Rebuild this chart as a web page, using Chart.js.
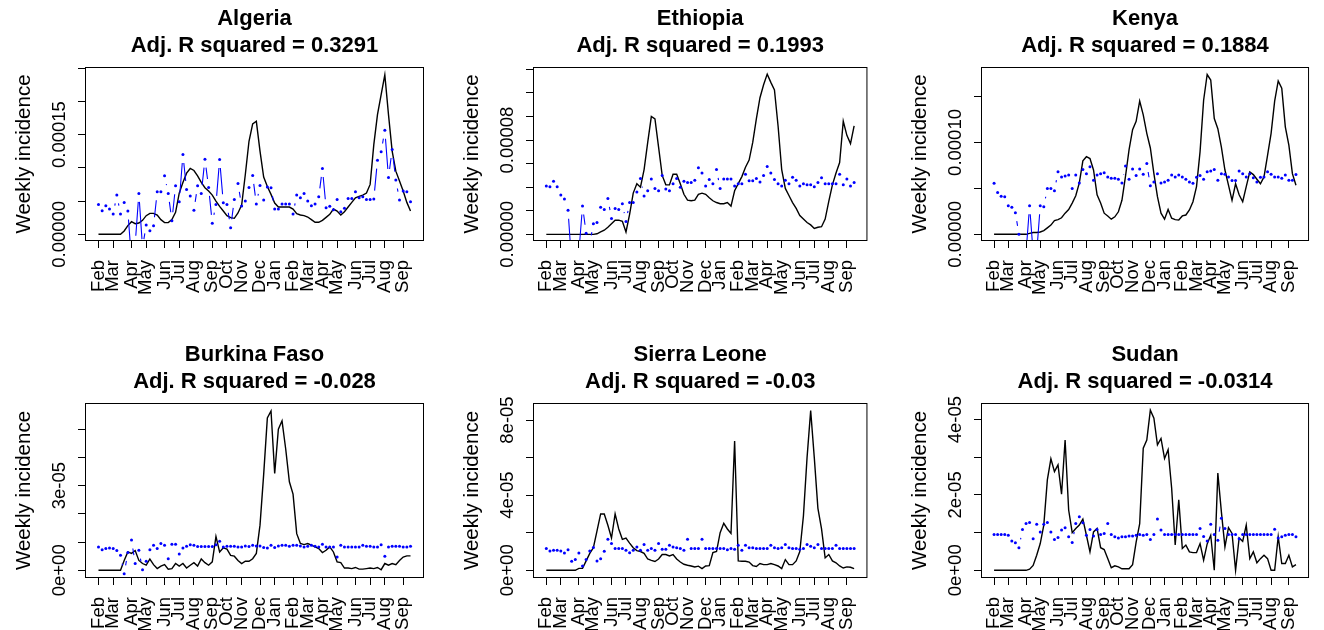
<!DOCTYPE html>
<html>
<head>
<meta charset="utf-8">
<script src="https://cdn.jsdelivr.net/npm/chart.js@4.4.1/dist/chart.umd.min.js"></script>
<style>
  html, body { margin: 0; padding: 0; background: #fff; overflow: hidden; }
  #wrap { position: relative; width: 1324px; height: 630px; }
  canvas { position: absolute; }
</style>
</head>
<body>
<div id="wrap"></div>
<script>
// x axis: weekly index, ticks on the first week of each month
const monthTicks = [0, 4, 9, 13, 18, 22, 26, 31, 35, 39, 44, 48, 53, 57, 61, 65, 70, 74, 78, 83];
const monthLabels = ["Feb", "Mar", "Apr", "May", "Jun", "Jul", "Aug", "Sep", "Oct", "Nov", "Dec", "Jan",
  "Feb", "Mar", "Apr", "May", "Jun", "Jul", "Aug", "Sep"];

const countries = ["Algeria", "Ethiopia", "Kenya", "Burkina Faso", "Sierra Leone", "Sudan"];
const adjR2 = ["0.3291", "0.1993", "0.1884", "-0.028", "-0.03", "-0.0314"];

// weekly incidence, units of 1e-5 (observed = black line, fitted = blue)
const algeriaObs = [0, 0, 0, 0, 0, 0, 0, 0.5, 1.3, 1.9, 1.6, 1.7,
  2.1, 2.8, 3.15, 3.15, 2.9, 2.2, 1.75, 1.75, 2.2, 3.3, 6.2, 7.8,
  9.2, 9.9, 9.6, 8.8, 7.8, 7.0, 6.5, 5.9, 5.0, 4.2, 3.5, 2.8,
  2.5, 2.4, 3.2, 4.4, 9.0, 14.0, 16.6, 17.0, 12.5, 8.6, 7.2, 6.0,
  4.7, 4.1, 4.1, 4.1, 4.1, 3.8, 3.1, 2.9, 2.8, 2.6, 2.2, 1.8,
  1.8, 2.1, 2.55, 3.0, 3.8, 3.5, 2.9, 3.4, 4.1, 4.8, 5.5, 5.7,
  5.9, 6.2, 7.5, 13.5, 18.0, 21.0, 24.0, 18.0, 12.5, 9.5, 8.0, 6.5,
  4.8, 3.5];
const algeriaFit = [4.5, 3.55, 4.3, 3.8, 3.05, 5.9, 3.05, 4.8, 3.5, -4, -1.5, 6.15,
  -2, 1.4, 0.55, 1.3, 6.4, 6.4, 8.8, 6.15, 2.05, 7.3, 4.9, 12.0,
  6.75, 5.75, 3.6, 7.3, 6.15, 11.3, 7.05, 1.65, 4.5, 11.25, 4.75, 4.5,
  1.0, 5.25, 7.65, 4.25, 5.0, 7.05, 8.85, 4.55, 7.35, 5.15, 7.1, 7.0,
  3.8, 3.8, 4.55, 4.55, 4.55, 3.05, 5.9, 5.5, 6.15, 5.0, 4.3, 4.55,
  5.65, 9.9, 4.0, 4.2, 3.7, 5.25, 3.4, 3.9, 5.4, 5.4, 6.4, 5.5,
  5.65, 5.25, 5.25, 5.3, 11.15, 12.4, 15.65, 8.55, 12.75, 8.15, 5.15, 6.5,
  6.4, 4.9];

const ethiopiaObs = [0, 0, 0, 0, 0, 0, 0, 0, 0, 0, 0, 0,
  0, 0, 0.05, 0.2, 0.35, 0.6, 0.9, 1.2, 1.2, 1.1, 0.2, 1.7,
  3.5, 4.3, 4.0, 5.5, 7.8, 10.0, 9.8, 7.4, 5.0, 4.2, 4.2, 5.1,
  5.1, 4.3, 3.4, 2.9, 2.85, 2.9, 3.4, 3.5, 3.4, 3.1, 2.85, 2.7,
  2.6, 2.6, 2.7, 2.4, 3.7, 4.3, 4.9, 5.7, 6.3, 7.8, 9.8, 11.6,
  12.7, 13.6, 12.9, 12.25, 9.2, 5.5, 3.9, 3.3, 2.7, 2.2, 1.6, 1.3,
  1.0, 0.8, 0.5, 0.6, 0.65, 1.3, 2.8, 4.2, 5.2, 6.1, 9.6, 8.4,
  7.7, 9.2];
const ethiopiaFit = [4.1, 4.05, 4.5, 4.05, 3.35, 3.0, 2.05, -2.5, -3, -1.5, 2.4, 0.1,
  -0.8, 0.9, 1.0, 2.3, 2.1, 3.05, 1.35, 2.2, 2.1, 2.6, 1.1, 2.7,
  2.7, 3.6, 4.75, 3.25, 3.7, 4.7, 3.9, 3.7, 5.0, 3.85, 3.7, 4.3,
  4.75, 4.0, 4.5, 4.4, 4.4, 4.6, 5.65, 5.2, 4.1, 4.65, 4.3, 5.5,
  3.9, 4.7, 4.7, 4.7, 4.1, 4.3, 4.3, 5.1, 4.55, 4.55, 4.75, 4.45,
  5.0, 5.75, 5.2, 4.65, 4.3, 4.1, 4.6, 4.3, 4.85, 4.6, 4.1, 4.3,
  4.2, 4.2, 4.05, 4.4, 4.8, 4.3, 4.3, 4.3, 4.3, 5.1, 4.2, 4.7,
  4.1, 4.4];

const kenyaObs = [0, 0, 0, 0, 0, 0, 0, 0, 0, 0, 0.1, 0.2,
  0.2, 0.25, 0.4, 0.7, 1.0, 1.5, 1.6, 1.8, 2.3, 2.7, 3.4, 4.2,
  5.6, 8.0, 8.45, 8.25, 7.0, 4.3, 3.4, 2.3, 2.0, 1.65, 1.9, 2.45,
  3.7, 6.3, 9.2, 11.4, 12.3, 14.5, 13.0, 11.0, 9.4, 6.6, 4.1, 2.3,
  1.65, 2.7, 1.75, 1.6, 1.55, 2.0, 2.1, 2.65, 3.55, 5.2, 9.0, 14.6,
  17.4, 16.8, 12.6, 11.5, 9.5, 7.0, 5.35, 3.7, 5.5, 4.3, 3.55, 5.2,
  6.8, 6.5, 6.0, 5.5, 6.25, 8.6, 11.0, 14.5, 16.7, 15.9, 11.7, 9.7,
  6.6, 5.35];
const kenyaFit = [5.55, 4.55, 4.15, 4.1, 3.1, 2.95, 2.35, 0, -1, -2, 3.1, -2,
  -2, 3.1, 3.0, 5.0, 5.0, 4.75, 6.8, 6.25, 6.35, 6.45, 5.0, 6.45,
  5.6, 7.05, 6.6, 7.35, 5.9, 6.45, 6.6, 6.7, 6.25, 6.1, 6.1, 6.0,
  5.6, 7.45, 6.0, 7.1, 6.4, 7.1, 6.55, 7.7, 5.3, 5.7, 6.6, 5.6,
  5.7, 5.9, 6.45, 6.25, 6.45, 6.25, 6.0, 5.7, 5.55, 6.2, 6.4, 6.0,
  6.8, 6.9, 7.05, 5.9, 6.6, 6.55, 6.25, 5.85, 5.85, 6.9, 6.6, 6.25,
  6.6, 6.15, 5.7, 6.2, 6.25, 6.8, 6.55, 6.25, 6.25, 6.1, 6.45, 5.9,
  5.9, 6.5];

const burkinaObs = [0, 0, 0, 0, 0, 0, 0, 0.35, 0.65, 0.6, 0.7, 0.35,
  0.24, 0.18, 0.4, 0.2, 0.06, 0.15, 0.2, 0.04, 0.06, 0.24, 0.15, 0.24,
  0.08, 0.18, 0.27, 0.15, 0.4, 0.27, 0.18, 0.3, 1.2, 0.65, 0.8, 0.75,
  0.53, 0.5, 0.35, 0.24, 0.32, 0.32, 0.41, 0.6, 1.6, 3.4, 5.4, 5.65,
  3.43, 5.0, 5.3, 4.3, 3.14, 2.7, 1.3, 0.95, 0.91, 0.95, 0.89, 0.83,
  0.77, 0.63, 0.71, 0.83, 0.65, 0.3, 0.27, 0.08, 0.08, 0.06, 0.1, 0.04,
  0.04, 0.06, 0.08, 0.06, 0.1, 0.02, 0.24, 0.18, 0.24, 0.2, 0.35, 0.47,
  0.51, 0.51];
const burkinaFit = [0.83, 0.73, 0.77, 0.79, 0.77, 0.7, 0.53, -0.12, 0.63, 1.07, 0.24, 0.71,
  0.02, 0.32, 0.73, 0.89, 0.77, 0.95, 0.89, 0.41, 0.92, 0.92, 0.58, 0.79,
  0.85, 0.91, 0.89, 0.84, 0.84, 0.84, 0.84, 0.84, 0.91, 1.03, 0.83, 0.85,
  0.85, 0.85, 0.83, 0.83, 0.86, 0.84, 0.89, 0.86, 0.86, 0.81, 0.79, 0.89,
  0.81, 0.86, 0.89, 0.89, 0.85, 0.89, 0.89, 0.86, 0.83, 0.85, 0.89, 0.85,
  0.83, 0.92, 0.83, 0.83, 0.83, 0.47, 0.89, 0.83, 0.83, 0.83, 0.83, 0.83,
  0.89, 0.85, 0.85, 0.83, 0.83, 0.91, 0.5, 0.83, 0.85, 0.85, 0.85, 0.83,
  0.83, 0.85];

const sierraObs = [0, 0, 0, 0, 0, 0, 0, 0, 0, 0.1, 0.1, 0.5,
  0.9, 1.2, 2.1, 3.0, 3.0, 2.4, 1.72, 3.0, 2.2, 1.65, 1.72, 1.45,
  1.2, 1.05, 1.0, 0.9, 0.6, 0.53, 0.47, 0.6, 0.84, 0.84, 0.76, 0.84,
  0.6, 0.44, 0.32, 0.27, 0.23, 0.18, 0.22, 0.09, 0.23, 0.25, 0.94, 1.0,
  2.0, 2.5, 2.2, 1.96, 6.88, 0.5, 0.48, 0.48, 0.44, 0.25, 0.2, 0.36,
  0.3, 0.3, 0.36, 0.3, 0.23, 0.09, 0.57, 0.3, 0.3, 0.5, 1.0, 2.9,
  6.0, 8.5, 6.0, 3.3, 2.2, 0.66, 0.84, 0.5, 0.4, 0.23, 0.12, 0.18,
  0.16, 0.09];
const sierraFit = [1.16, 1.03, 1.07, 1.07, 1.03, 0.92, 1.1, 0.48, 0.57, 0.92, 0.23, 0.57,
  1.03, 1.21, 0.5, 0.62, 1.01, 1.65, 1.42, 1.16, 1.16, 1.16, 1.07, 0.94,
  1.07, 1.24, 1.07, 1.37, 1.07, 1.16, 1.07, 1.42, 1.12, 1.12, 1.33, 1.24,
  1.2, 1.16, 1.07, 1.65, 1.16, 1.16, 1.16, 1.65, 1.16, 1.16, 1.16, 1.16,
  1.16, 1.16, 1.1, 1.16, 1.12, 1.33, 1.07, 1.33, 1.2, 1.2, 1.16, 1.16,
  1.16, 1.16, 1.33, 1.2, 1.16, 1.2, 1.37, 1.2, 1.16, 1.16, 1.12, 1.16,
  1.37, 1.28, 1.2, 1.37, 1.16, 1.16, 1.16, 1.16, 1.33, 1.16, 1.16, 1.16,
  1.16, 1.16];

const sudanObs = [0, 0, 0, 0, 0, 0, 0, 0, 0, 0, 0.03, 0.13,
  0.4, 0.71, 1.2, 2.4, 2.96, 2.62, 2.8, 2.02, 3.46, 1.6, 1.0, 1.11,
  1.2, 1.36, 0.93, 0.49, 1.02, 1.11, 0.6, 0.55, 0.31, 0.07, 0.12, 0.09,
  0.04, 0.04, 0.04, 0.15, 0.75, 1.24, 3.24, 3.46, 4.25, 4.04, 3.33, 3.5,
  2.97, 3.2, 2.18, 0.67, 1.87, 0.58, 0.67, 0.49, 0.47, 0.47, 0.71, 0.27,
  0.7, 0.93, 0, 2.58, 1.55, 0.62, 1.13, 0.98, 0, 0.86, 0.77, 1.2,
  0.31, 0.49, 0.2, 0.31, 0.4, 0.31, 0, 0, 0.89, 0.18, 0.18, 0.4,
  0.09, 0.15];
const sudanFit = [0.95, 0.95, 0.95, 0.95, 0.93, 0.78, 0.73, 0.6, 1.08, 1.24, 1.27, 0.84,
  1.22, 1.02, 1.22, 1.27, 1.02, 0.82, 0.87, 1.07, 1.13, 0.89, 0.74, 1.24,
  1.42, 1.26, 0.93, 1.08, 0.91, 1.08, 0.95, 0.98, 1.24, 0.95, 0.89, 0.86,
  0.89, 0.89, 0.91, 0.91, 0.93, 0.95, 0.93, 0.95, 0.82, 0.95, 1.36, 1.07,
  0.95, 0.95, 0.95, 0.95, 0.95, 0.95, 0.95, 0.95, 0.95, 0.95, 1.11, 0.9,
  0.78, 1.22, 0.95, 0.8, 1.38, 1.11, 0.95, 0.95, 0.95, 0.84, 0.95, 0.95,
  0.95, 0.95, 0.95, 0.95, 0.95, 0.95, 0.95, 1.09, 0.86, 0.89, 0.93, 0.95,
  0.95, 0.89];

// y ticks (1e-5 units) and printed labels, "" = tick mark only
const algeriaTicks = [0, 5, 10, 15, 20, 25];
const algeriaTickLabels = ["0.00000", "", "", "0.00015", "", ""];
const ethiopiaTicks = [0, 2, 4, 6, 8, 10, 12, 14];
const ethiopiaTickLabels = ["0.00000", "", "", "", "0.00008", "", "", ""];
const kenyaTicks = [0, 5, 10, 15];
const kenyaTickLabels = ["0.00000", "", "0.00010", ""];
const burkinaTicks = [0, 1, 2, 3, 4, 5];
const burkinaTickLabels = ["0e+00", "", "", "3e-05", "", ""];
const sierraTicks = [0, 2, 4, 6, 8];
const sierraTickLabels = ["0e+00", "", "4e-05", "", "8e-05"];
const sudanTicks = [0, 1, 2, 3, 4];
const sudanTickLabels = ["0e+00", "", "2e-05", "", "4e-05"];

const panels = [
  { obs: algeriaObs, fit: algeriaFit, ticks: algeriaTicks, labels: algeriaTickLabels, yMin: -0.86, yMax: 25.02 },
  { obs: ethiopiaObs, fit: ethiopiaFit, ticks: ethiopiaTicks, labels: ethiopiaTickLabels, yMin: -0.48, yMax: 14.12 },
  { obs: kenyaObs, fit: kenyaFit, ticks: kenyaTicks, labels: kenyaTickLabels, yMin: -0.62, yMax: 18.11 },
  { obs: burkinaObs, fit: burkinaFit, ticks: burkinaTicks, labels: burkinaTickLabels, yMin: -0.238, yMax: 5.897 },
  { obs: sierraObs, fit: sierraFit, ticks: sierraTicks, labels: sierraTickLabels, yMin: -0.357, yMax: 8.853 },
  { obs: sudanObs, fit: sudanFit, ticks: sudanTicks, labels: sudanTickLabels, yMin: -0.178, yMax: 4.415 },
];

// page layout of the 2x3 grid
const colGeom = [
  { left: 0, plotL: 86, padR: 18 },
  { left: 441, plotL: 93, padR: 10 },
  { left: 883, plotL: 99, padR: 6 },
];
const rowGeom = [
  { top: 0, titleTop: 6, xH: 75 },
  { top: 315, titleTop: 27, xH: 53 },
];
const W = 441, H = 315;
const BLUE = "#0000ff";
const GAP = 8.5; // type="b" style gap around each point
const FONT = '"Liberation Sans", Arial, Helvetica, sans-serif';

Chart.defaults.font.family = FONT;
Chart.defaults.color = "#000";

// blue segments between fitted points, cut short near each point
const bSegments = {
  id: "bSegments",
  afterDatasetsDraw(chart) {
    const pts = chart.getDatasetMeta(1).data;
    const { ctx, chartArea: a } = chart;
    ctx.save();
    ctx.beginPath();
    ctx.rect(a.left, a.top, a.right - a.left, a.bottom - a.top);
    ctx.clip();
    ctx.strokeStyle = BLUE;
    ctx.lineWidth = 1.1;
    ctx.beginPath();
    for (let i = 1; i < pts.length; i++) {
      const p = pts[i - 1], q = pts[i];
      const dx = q.x - p.x, dy = q.y - p.y;
      const d = Math.hypot(dx, dy);
      if (d <= 2 * GAP) continue;
      ctx.moveTo(p.x + dx / d * GAP, p.y + dy / d * GAP);
      ctx.lineTo(q.x - dx / d * GAP, q.y - dy / d * GAP);
    }
    ctx.stroke();
    ctx.restore();
  }
};

// box around plot region + vertical y tick labels and y title
const rFrame = {
  id: "rFrame",
  afterDraw(chart, args, opts) {
    const { ctx, chartArea: a } = chart;
    const ys = chart.scales.y;
    ctx.save();
    ctx.strokeStyle = "#000";
    ctx.lineWidth = 1;
    ctx.strokeRect(a.left - 0.5, a.top - 0.5, a.right - a.left + 1, a.bottom - a.top + 1);

    ctx.fillStyle = "#000";
    ctx.textAlign = "center";
    ctx.textBaseline = "alphabetic";
    ctx.font = "18.5px " + FONT;
    opts.ticks.forEach((v, i) => {
      if (!opts.labels[i]) return;
      ctx.save();
      ctx.translate(a.left - 21, ys.getPixelForValue(v));
      ctx.rotate(-Math.PI / 2);
      ctx.fillText(opts.labels[i], 0, 0);
      ctx.restore();
    });
    ctx.font = "20.5px " + FONT;
    ctx.translate(a.left - 56.5, (a.top + a.bottom) / 2);
    ctx.rotate(-Math.PI / 2);
    ctx.fillText("Weekly incidence", 0, 0);
    ctx.restore();
  }
};

const wrap = document.getElementById("wrap");

panels.forEach((p, n) => {
  const cg = colGeom[n % 3], rg = rowGeom[Math.floor(n / 3)];
  const canvas = document.createElement("canvas");
  canvas.width = W;
  canvas.height = H;
  canvas.style.left = cg.left + "px";
  canvas.style.top = rg.top + "px";
  wrap.appendChild(canvas);

  new Chart(canvas, {
    type: "line",
    data: {
      datasets: [
        {
          data: p.obs.map((v, i) => ({ x: i, y: v })),
          borderColor: "#000",
          borderWidth: 1.4,
          pointRadius: 0,
          tension: 0,
          order: 2,
        },
        {
          data: p.fit.map((v, i) => ({ x: i, y: v })),
          showLine: false,
          pointRadius: 1.5,
          pointBorderWidth: 0,
          pointBackgroundColor: BLUE,
          order: 1,
        },
      ],
    },
    options: {
      responsive: false,
      animation: false,
      devicePixelRatio: 1,
      layout: { autoPadding: false, padding: { left: 0, right: cg.padR, top: 0, bottom: 0 } },
      plugins: {
        legend: { display: false },
        tooltip: { enabled: false },
        title: {
          display: true,
          fullSize: false,
          text: [countries[n], "Adj. R squared = " + adjR2[n]],
          color: "#000",
          font: { size: 22, weight: "bold", lineHeight: 1.2 },
          padding: { top: rg.titleTop, bottom: 9.2 },
        },
        rFrame: { ticks: p.ticks, labels: p.labels },
      },
      scales: {
        x: {
          type: "linear",
          min: -3.4,
          max: 88.4,
          afterBuildTicks: (s) => { s.ticks = monthTicks.map((v) => ({ value: v })); },
          afterFit: (s) => { s.height = rg.xH; },
          border: { display: false },
          grid: { drawOnChartArea: false, drawTicks: true, tickLength: 8, color: "#000", lineWidth: 1 },
          ticks: {
            autoSkip: false,
            minRotation: 90,
            maxRotation: 90,
            padding: 12,
            font: { size: 18.5 },
            color: "#000",
            callback: (v, i) => monthLabels[i],
          },
        },
        y: {
          type: "linear",
          min: p.yMin,
          max: p.yMax,
          afterBuildTicks: (s) => { s.ticks = p.ticks.map((v) => ({ value: v })); },
          afterFit: (s) => { s.width = cg.plotL; },
          border: { display: false },
          grid: { drawOnChartArea: false, drawTicks: true, tickLength: 8, color: "#000", lineWidth: 1 },
          ticks: { display: false },
        },
      },
    },
    plugins: [bSegments, rFrame],
  });
});
</script>
</body>
</html>
